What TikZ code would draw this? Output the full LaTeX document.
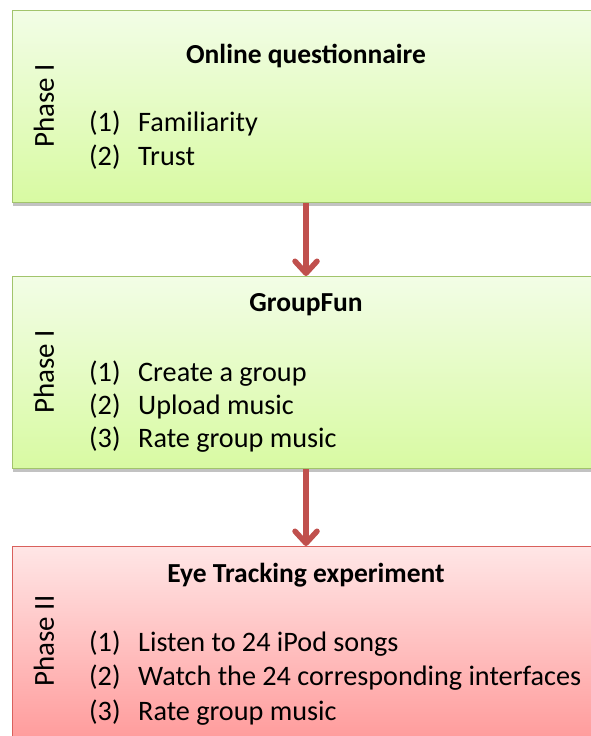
\documentclass[tikz,border=0pt]{standalone}
\usepackage{fontspec}
\setmainfont{Carlito}
\usetikzlibrary{shadows,arrows.meta}
\definecolor{greentop}{HTML}{F2FDE6}
\definecolor{greenbot}{HTML}{D8FAA2}
\definecolor{greenline}{HTML}{A2C46C}
\definecolor{redtop}{HTML}{FFE6E6}
\definecolor{redbot}{HTML}{FF9C9C}
\definecolor{redline}{HTML}{D9605C}
\definecolor{arrowred}{HTML}{C0504D}
\tikzset{
  x=1pt, y=1pt,
  phasebox/.style={draw, line width=1.2pt, minimum width=620pt, minimum height=192pt,
    anchor=north west, inner sep=0pt,
    drop shadow={shadow xshift=0pt, shadow yshift=-3pt, opacity=0.4, fill=black!60}},
  greenbox/.style={phasebox, draw=greenline, top color=greentop, bottom color=greenbot},
  redbox/.style={phasebox, draw=redline, top color=redtop, bottom color=redbot},
  phaselabel/.style={rotate=90, font=\fontsize{29}{32}\selectfont, inner sep=0pt},
  boxtitle/.style={anchor=base, font=\fontsize{27.5}{32}\selectfont\bfseries, inner sep=0pt},
  itemnum/.style={anchor=base west, font=\fontsize{28.2}{32}\selectfont, inner sep=0pt},
  flowarrow/.style={draw=arrowred, line width=5.5pt,
    -{Straight Barb[length=12pt, width=22pt, line width=5.5pt, round]}},
}
\begin{document}
\begin{tikzpicture}
\useasboundingbox (0,0) rectangle (591,736);
\clip (0,0) rectangle (591,736);

% three stacked phase boxes
\node[greenbox] (q) at (12,726) {};
\node[greenbox] (g) at (12,460) {};
\node[redbox]   (e) at (12,190) {};

% vertical phase labels
\node[phaselabel] (qp) at (44,630) {Phase I};
\node[phaselabel] (gp) at (44,364) {Phase I};
\node[phaselabel] (ep) at (44,95)  {Phase II};

% online questionnaire
\node[boxtitle] (qt) at (306,672) {Online questionnaire};
\node[itemnum] (q1n) at (89,604) {(1)};
\node[itemnum] (q1)  at (138,604) {Familiarity};
\node[itemnum] (q2n) at (89,570) {(2)};
\node[itemnum] (q2)  at (138,570) {Trust};

% GroupFun
\node[boxtitle] (gt) at (306,424) {GroupFun};
\node[itemnum] (g1n) at (89,354) {(1)};
\node[itemnum] (g1)  at (138,354) {Create a group};
\node[itemnum] (g2n) at (89,321) {(2)};
\node[itemnum] (g2)  at (138,321) {Upload music};
\node[itemnum] (g3n) at (89,288) {(3)};
\node[itemnum] (g3)  at (138,288) {Rate group music};

% eye tracking experiment
\node[boxtitle] (et) at (306,153) {Eye Tracking experiment};
\node[itemnum] (e1n) at (89,84) {(1)};
\node[itemnum] (e1)  at (138,84) {Listen to 24 iPod songs};
\node[itemnum] (e2n) at (89,50) {(2)};
\node[itemnum] (e2)  at (138,50) {Watch the 24 corresponding interfaces};
\node[itemnum] (e3n) at (89,16) {(3)};
\node[itemnum] (e3)  at (138,16) {Rate group music};

% connectors between phases, dropped straight down from the titles' axis
\draw[flowarrow] (qt |- q.south) -- (qt |- g.north);
\draw[flowarrow] (qt |- g.south) -- (qt |- e.north);
\end{tikzpicture}
\end{document}
